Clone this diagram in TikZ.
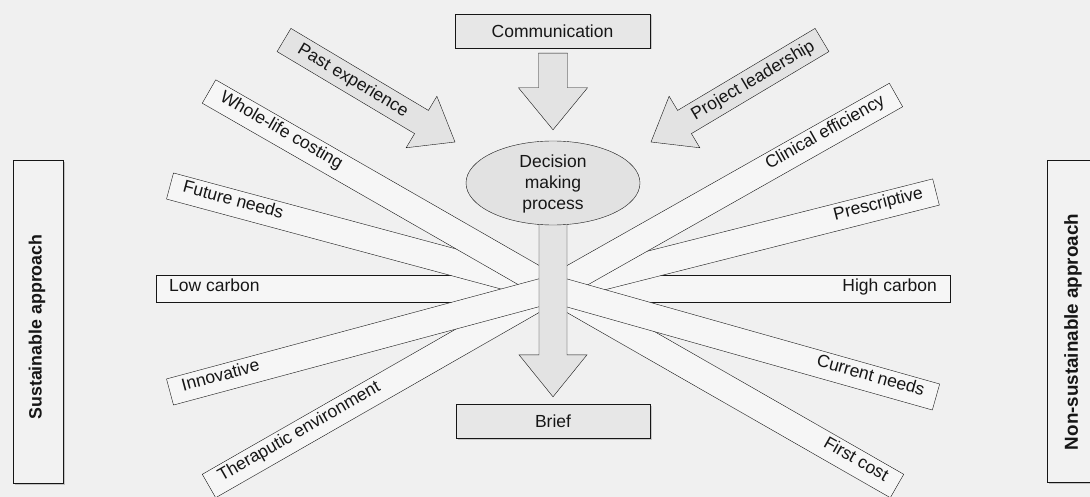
\documentclass[tikz,border=0pt]{standalone}
\usepackage{fontspec}
\setmainfont{Liberation Sans}
\usetikzlibrary{calc,shapes.geometric,shadows}
\definecolor{bgc}{HTML}{F0F0F0}
\definecolor{barc}{HTML}{F6F6F6}
\definecolor{arrc}{HTML}{E3E3E3}
\definecolor{boxc}{HTML}{E7E7E7}
\definecolor{ellc}{HTML}{E2E2E2}
\definecolor{sidec}{HTML}{F2F2F2}
\definecolor{linec}{HTML}{161616}
\pgfdeclarelayer{bg}\pgfdeclarelayer{bars}\pgfdeclarelayer{arrows}
\pgfsetlayers{bg,bars,arrows,main}
\newcommand\txtfont{\fontsize{17.5}{21}\selectfont}
% left band: name, outer point, text
\newcommand\LBand[3]{%
  \coordinate (#1p) at #2;
  \draw[bar] ($(#1p)!13.5pt!90:(T)$) -- ($(#1p)!13.5pt!-90:(T)$) -- ($(T)!13.5pt!90:(#1p)$) -- ($(T)!13.5pt!-90:(#1p)$) -- cycle;
  \path (#1p) -- (T) node[pos=0, sloped, anchor=mid west, bartext] (#1) {#3};
}
\newcommand\RBand[3]{%
  \coordinate (#1p) at #2;
  \draw[bar] ($(#1p)!13.5pt!90:(T)$) -- ($(#1p)!13.5pt!-90:(T)$) -- ($(T)!13.5pt!90:(#1p)$) -- ($(T)!13.5pt!-90:(#1p)$) -- cycle;
  \path (T) -- (#1p) node[pos=1, sloped, anchor=mid east, bartext] (#1) {#3};
}
% block arrow: start, tip, shaft half, head half, head length
\newcommand\BArrow[5]{%
  \coordinate (bah) at ($(#2)!#5!(#1)$);
  \draw[barrow] ($(#1)!#3!90:(#2)$) -- ($(bah)!#3!90:(#2)$) -- ($(bah)!#4!90:(#2)$) -- (#2)
    -- ($(bah)!#4!-90:(#2)$) -- ($(bah)!#3!-90:(#2)$) -- ($(#1)!#3!-90:(#2)$) -- cycle;
}
\begin{document}
\begin{tikzpicture}[x=1pt,y=-1pt,line width=1.35pt,
  bar/.style={draw=linec, fill=barc, line join=miter},
  barrow/.style={draw=linec, fill=arrc, line join=miter},
  bartext/.style={font=\txtfont, inner xsep=13pt, inner ysep=0pt, text=linec},
  boxnode/.style={rectangle, draw=linec, fill=boxc, inner sep=0pt, font=\txtfont, text=linec,
    drop shadow={shadow xshift=1.5pt, shadow yshift=-1.5pt, opacity=.35}},
  sidebox/.style={rectangle, draw=linec, fill=sidec, inner sep=0pt,
    drop shadow={shadow xshift=1.8pt, shadow yshift=-1.8pt, opacity=.4}},
  sidetext/.style={rotate=90, text=linec, inner sep=0pt},
  ell/.style={ellipse, draw=linec, fill=ellc, inner sep=0pt, minimum width=174pt, minimum height=84pt}
]
\useasboundingbox (0,0) rectangle (1090,497);
\begin{pgfonlayer}{bg}
  \fill[bgc] (0,0) rectangle (1090,497);
\end{pgfonlayer}

% main nodes
\node[boxnode, minimum width=195pt, minimum height=34pt] (comm) at (552.5,31) {Communication};
\node[ell] (dec) at (553,183) {};
\node[font=\txtfont, align=center, text=linec, inner sep=0pt] (dectext) at (553,184) {Decision\\making\\process};
\node[boxnode, minimum width=194pt, minimum height=34pt] (brief) at (553,421) {Brief};
\node[sidebox, minimum width=50pt, minimum height=323pt] (sus) at (38,321.5) {};
\node[sidetext, font=\bfseries\fontsize{17.8}{20}\selectfont] (sustext) at (37,327) {Sustainable approach};
\node[sidebox, minimum width=50pt, minimum height=322pt] (nonsus) at (1072,321) {};
\node[sidetext, font=\bfseries\fontsize{18.8}{20}\selectfont] (nonsustext) at (1073,332) {Non-sustainable approach};

% bars
\coordinate (T) at (553,289);
\begin{pgfonlayer}{bars}
  \LBand{lowc}{(156,289)}{Low carbon}
  \LBand{ther}{(209,486)}{Theraputic environment}
  \LBand{futr}{(170,186)}{Future needs}
  \LBand{whole}{(209,91.5)}{Whole-life costing}
  \LBand{innov}{(170,392)}{Innovative}
  \RBand{highc}{(950,289)}{High carbon}
  \RBand{first}{(897,486)}{First cost}
  \RBand{presc}{(936,192)}{Prescriptive}
  \RBand{clin}{(896,95)}{Clinical efficiency}
  \RBand{curr}{(936,397)}{Current needs}
\end{pgfonlayer}

% block arrows
\begin{pgfonlayer}{arrows}
  \coordinate (cA) at ($(comm.south)+(0.5,5)$);
  \coordinate (cB) at ($(dec.north)+(0,-11)$);
  \BArrow{cA}{cB}{14.5pt}{34.5pt}{42pt}
  \coordinate (dA) at ($(dec.south)+(0,-10)$);
  \coordinate (dB) at ($(brief.north)+(0,-7)$);
  \BArrow{dA}{dB}{14pt}{34pt}{42pt}
  \coordinate (pA) at (284,40);
  \coordinate (pB) at (455,142);
  \BArrow{pA}{pB}{13.5pt}{30pt}{39pt}
  \path (pA) -- (bah) node[midway, sloped, font=\txtfont, text=linec] (pastexp) {Past experience};
  \coordinate (lA) at (822,40);
  \coordinate (lB) at (651,142);
  \BArrow{lA}{lB}{13.5pt}{30pt}{39pt}
  \path (bah) -- (lA) node[midway, sloped, font=\txtfont, text=linec] (projlead) {Project leadership};
\end{pgfonlayer}
\end{tikzpicture}
\end{document}
